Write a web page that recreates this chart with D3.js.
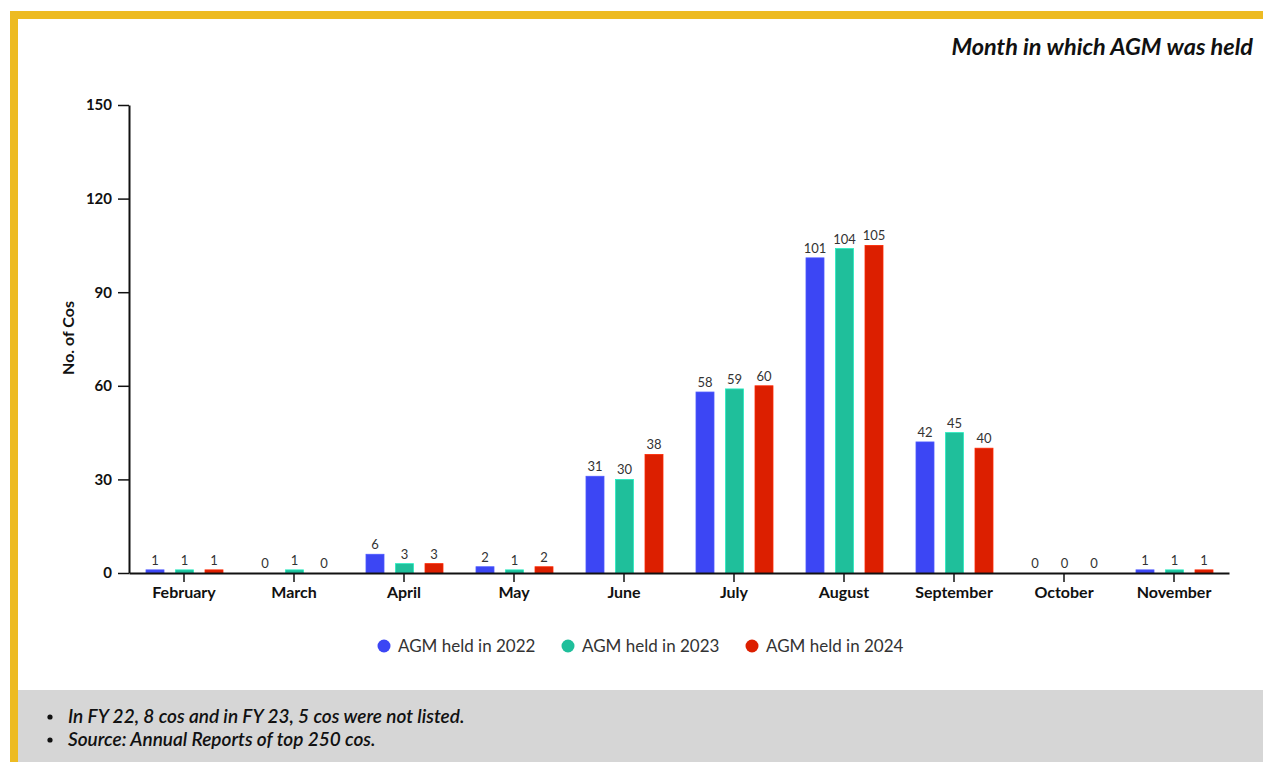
<!DOCTYPE html>
<html>
<head>
<meta charset="utf-8">
<script src="https://cdn.jsdelivr.net/npm/d3@7"></script>
<style>
  html, body { margin: 0; padding: 0; background: #fff; }
  svg { display: block; font-family: Lato, "Open Sans", sans-serif; }
</style>
</head>
<body>
<svg id="chart" width="1263" height="762"></svg>
<script>
// Months on the x axis
const months = ["February", "March", "April", "May", "June", "July", "August", "September", "October", "November"];
// Number of companies holding their AGM in each month, per year
const agm2022 = [1, 0, 6, 2, 31, 58, 101, 42, 0, 1];
const agm2023 = [1, 1, 3, 1, 30, 59, 104, 45, 0, 1];
const agm2024 = [1, 0, 3, 2, 38, 60, 105, 40, 0, 1];
const seriesNames = ["AGM held in 2022", "AGM held in 2023", "AGM held in 2024"];
const seriesColors = ["#3c46f4", "#1fbf9b", "#dc1f00"];
const yTicks = [0, 30, 60, 90, 120, 150];
const notes = ["In FY 22, 8 cos and in FY 23, 5 cos were not listed.", "Source: Annual Reports of top 250 cos."];

const series = [agm2022, agm2023, agm2024];
const svg = d3.select("#chart");

// Frame: yellow top and left bars, grey notes panel
svg.append("rect").attr("x", 10).attr("y", 11).attr("width", 1253).attr("height", 8).attr("fill", "#edbb22");
svg.append("rect").attr("x", 10).attr("y", 11).attr("width", 8).attr("height", 751).attr("fill", "#edbb22");
svg.append("rect").attr("x", 18).attr("y", 690).attr("width", 1245).attr("height", 72).attr("fill", "#d6d6d6");

// Title
svg.append("text").attr("x", 1253).attr("y", 55).attr("text-anchor", "end")
  .attr("font-size", 23.5).attr("font-weight", 700).attr("font-style", "italic").attr("fill", "#111")
  .text("Month in which AGM was held");

const plotLeft = 129, plotRight = 1229, plotTop = 105, plotBottom = 573;
const x = d3.scaleBand().domain(months).range([plotLeft, plotRight]).paddingInner(0).paddingOuter(0);
const xs = d3.scaleBand().domain(d3.range(series.length)).range([-38, 39]).paddingInner(0.39).paddingOuter(0);
const y = d3.scaleLinear().domain([0, 150]).range([plotBottom, plotTop]);

// Bars
const g = svg.append("g");
months.forEach((m, i) => {
  const grp = g.append("g").attr("transform", `translate(${x(m) + x.bandwidth() / 2},0)`);
  series.forEach((s, k) => {
    const v = s[i];
    if (v > 0) {
      grp.append("rect")
        .attr("x", xs(k)).attr("width", xs.bandwidth())
        .attr("y", y(v)).attr("height", y(0) - y(v))
        .attr("fill", seriesColors[k])
        .attr("stroke", d3.color(seriesColors[k]).brighter(0.6)).attr("stroke-width", 0.8);
    }
    grp.append("text")
      .attr("x", xs(k) + xs.bandwidth() / 2).attr("y", y(v) - 5)
      .attr("text-anchor", "middle").attr("font-size", 13).attr("fill", "#333")
      .text(v);
  });
});

// Axes
const xAxis = svg.append("g").attr("transform", `translate(0,${plotBottom})`)
  .call(d3.axisBottom(x).tickSize(9).tickSizeOuter(0).tickPadding(5));
xAxis.select(".domain").attr("stroke", "#111").attr("stroke-width", 2);
xAxis.selectAll(".tick line").attr("stroke", "#111").attr("stroke-width", 1.5);
xAxis.selectAll(".tick text").attr("font-size", 16).attr("font-weight", 700).attr("fill", "#111")
  .attr("font-family", "Lato, sans-serif");

const yAxis = svg.append("g").attr("transform", `translate(${plotLeft},0)`)
  .call(d3.axisLeft(y).tickValues(yTicks).tickSize(11).tickSizeOuter(0).tickPadding(6));
yAxis.select(".domain").attr("stroke", "#111").attr("stroke-width", 2);
yAxis.selectAll(".tick line").attr("stroke", "#111").attr("stroke-width", 1.5);
yAxis.selectAll(".tick text").attr("font-size", 15).attr("font-weight", 700).attr("fill", "#111")
  .attr("font-family", "Lato, sans-serif");

svg.append("text").attr("transform", "translate(74,338) rotate(-90)")
  .attr("text-anchor", "middle").attr("font-size", 16).attr("font-weight", 700).attr("fill", "#111")
  .text("No. of Cos");

// Legend
const legendX = [384, 568, 752];
seriesNames.forEach((n, k) => {
  svg.append("circle").attr("cx", legendX[k]).attr("cy", 646).attr("r", 6.5).attr("fill", seriesColors[k]);
  svg.append("text").attr("x", legendX[k] + 14).attr("y", 652)
    .attr("font-size", 17).attr("fill", "#333").text(n);
});

// Notes
notes.forEach((t, i) => {
  const yy = 723 + i * 23;
  svg.append("circle").attr("cx", 50).attr("cy", yy - 6).attr("r", 2.6).attr("fill", "#111");
  svg.append("text").attr("x", 68).attr("y", yy).attr("font-size", 19)
    .attr("font-style", "italic").attr("font-weight", 600).attr("fill", "#111").text(t);
});
</script>
</body>
</html>
